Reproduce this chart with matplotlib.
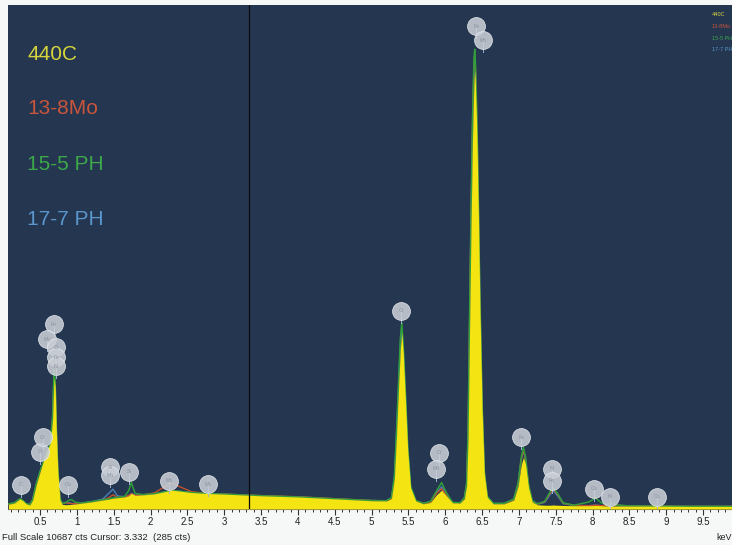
import matplotlib
matplotlib.use("Agg")
import matplotlib.pyplot as plt
from matplotlib.ticker import MultipleLocator

# ── Spectrum data (keV, counts) ──────────────────────────────────────────────

energy_kev = [
    0.07, 0.15, 0.20, 0.23, 0.27, 0.31, 0.36, 0.40, 0.45, 0.50,
    0.55, 0.60, 0.64, 0.67, 0.69, 0.705, 0.72, 0.74, 0.77, 0.80,
    0.85, 0.90, 0.93, 0.97, 1.05, 1.20, 1.35, 1.43, 1.49, 1.55,
    1.65, 1.70, 1.74, 1.79, 1.90, 2.05, 2.20, 2.29, 2.40, 2.55,
    2.75, 3.00, 3.50, 4.00, 4.50, 5.00, 5.20, 5.27, 5.31, 5.34,
    5.37, 5.39, 5.41, 5.43, 5.46, 5.49, 5.53, 5.60, 5.70, 5.80,
    5.88, 5.95, 6.02, 6.10, 6.20, 6.26, 6.29, 6.31, 6.33, 6.35,
    6.37, 6.39, 6.40, 6.41, 6.43, 6.45, 6.47, 6.50, 6.53, 6.57,
    6.65, 6.80, 6.93, 6.99, 7.03, 7.06, 7.09, 7.13, 7.18, 7.25,
    7.35, 7.42, 7.47, 7.52, 7.60, 7.75, 7.95, 8.04, 8.12, 8.20,
    8.26, 8.33, 8.50, 8.85, 8.90, 8.95, 9.30, 9.60, 9.90,
]

counts_440c = [
    100, 125, 180, 215, 170, 110, 85, 190, 520, 780,
    1040, 1250, 1400, 1890, 2780, 2600, 1700, 830, 190, 100,
    90, 95, 100, 105, 120, 150, 190, 210, 230, 240,
    255, 280, 330, 290, 300, 320, 370, 400, 380, 350,
    330, 315, 280, 255, 215, 175, 170, 220, 650, 1600,
    2700, 3400, 3750, 3300, 2300, 1250, 450, 170, 110, 140,
    300, 400, 270, 130, 125, 220, 500, 1500, 3800, 6000,
    7900, 9100, 9300, 9000, 7900, 6200, 4300, 2100, 750, 250,
    110, 110, 190, 500, 930, 1100, 950, 450, 150, 90,
    80, 80, 85, 80, 75, 70, 70, 75, 70, 65,
    65, 65, 60, 60, 60, 60, 55, 55, 55,
]

counts_13_8mo = [
    105, 125, 175, 200, 165, 110, 90, 195, 520, 760,
    980, 1180, 1350, 1900, 2850, 2650, 1720, 850, 210, 115,
    135, 120, 115, 110, 120, 150, 190, 240, 300, 250,
    255, 285, 320, 290, 300, 340, 480, 550, 470, 370,
    330, 315, 285, 260, 220, 180, 175, 210, 580, 1400,
    2250, 2850, 3050, 2750, 1900, 1050, 400, 160, 115, 140,
    330, 430, 290, 135, 130, 230, 530, 1600, 4000, 6200,
    8200, 9450, 9650, 9350, 8200, 6400, 4450, 2200, 780, 260,
    115, 115, 200, 540, 1050, 1250, 1060, 500, 170, 105,
    150, 330, 420, 320, 120, 75, 70, 80, 70, 90,
    120, 80, 65, 60, 60, 60, 55, 55, 55,
]

counts_15_5ph = [
    110, 130, 190, 220, 175, 115, 90, 200, 540, 800,
    1020, 1230, 1380, 1950, 2950, 2700, 1750, 860, 230, 120,
    140, 190, 200, 150, 125, 155, 195, 215, 235, 245,
    270, 380, 560, 330, 305, 325, 365, 390, 375, 350,
    330, 315, 280, 255, 215, 180, 175, 240, 700, 1700,
    2850, 3600, 3950, 3450, 2450, 1330, 480, 180, 120, 160,
    380, 560, 330, 140, 130, 240, 550, 1650, 4100, 6300,
    8300, 9550, 9750, 9450, 8300, 6500, 4550, 2250, 800, 270,
    120, 120, 210, 560, 1080, 1310, 1100, 520, 180, 110,
    160, 360, 450, 340, 130, 80, 150, 235, 130, 100,
    130, 85, 65, 60, 70, 60, 55, 55, 55,
]

counts_17_7ph = [
    105, 125, 180, 205, 165, 110, 88, 195, 525, 770,
    1000, 1200, 1370, 1920, 2870, 2680, 1730, 850, 215, 115,
    135, 125, 120, 110, 120, 155, 210, 330, 420, 280,
    255, 280, 330, 290, 300, 320, 365, 390, 375, 350,
    330, 315, 280, 255, 215, 178, 172, 225, 670, 1650,
    2750, 3480, 3820, 3380, 2380, 1290, 465, 175, 115, 150,
    340, 470, 300, 135, 128, 230, 520, 1550, 3900, 6100,
    8100, 9350, 9550, 9250, 8100, 6300, 4400, 2150, 770, 255,
    115, 115, 200, 530, 1040, 1240, 1050, 490, 165, 100,
    140, 300, 380, 290, 115, 75, 70, 80, 70, 85,
    110, 75, 65, 60, 60, 60, 55, 55, 55,
]

series_names = ["440C", "13-8Mo", "15-5 PH", "17-7 PH"]

# element marker labels (label, keV, counts at marker centre)
marker_labels = ["C", "O", "Cr", "Cu", "Fe", "Mn", "Cr", "Fe", "Ni",
                 "Al", "Mo", "Si", "Mo", "Mo", "Cr", "Cr", "Mn",
                 "Fe", "Mn", "Fe", "Ni", "Fe", "Cu", "Ni", "Cu"]
marker_kev = [0.24, 0.50, 0.54, 0.88, 0.69, 0.595, 0.72, 0.72, 0.72,
              1.45, 1.45, 1.71, 2.25, 2.78, 5.40, 5.92, 5.88,
              6.42, 6.51, 7.03, 7.45, 7.45, 8.02, 8.24, 8.88]
marker_counts = [510, 1210, 1525, 510, 3920, 3600, 3430, 3220, 3030,
                 890, 720, 785, 595, 530, 4200, 1190, 850,
                 10240, 9940, 1525, 850, 595, 425, 255, 255]

tick_kev = [0.5, 1, 1.5, 2, 2.5, 3, 3.5, 4, 4.5, 5, 5.5, 6, 6.5, 7,
            7.5, 8, 8.5, 9, 9.5]
full_scale = 10687
cursor_kev = 3.332
status_text = "Full Scale 10687 cts Cursor: 3.332  (285 cts)"

# ── Styling ──────────────────────────────────────────────────────────────────

BG = "#243650"
YELLOW_FILL = "#f4e412"
LINE_COLOURS = {"13-8Mo": "#c4502e", "15-5 PH": "#2f9e3b", "17-7 PH": "#4a80b8"}
TEXT_COLOURS = ["#d6d53c", "#c8553c", "#3ca84a", "#5a96cc"]

plt.rcParams["font.family"] = ["Liberation Sans", "DejaVu Sans"]

W, H = 732, 545
fig = plt.figure(figsize=(W / 100, H / 100), dpi=100, facecolor="#f6f7f7")
ax = fig.add_axes([8 / W, 36 / H, 724 / W, 504 / H])
ax.set_facecolor(BG)

# overlay spectra as lines, 440C as filled spectrum on top
ax.plot(energy_kev, counts_17_7ph, color=LINE_COLOURS["17-7 PH"], lw=1.0, zorder=2)
ax.plot(energy_kev, counts_13_8mo, color=LINE_COLOURS["13-8Mo"], lw=1.0, zorder=2.1)
ax.plot(energy_kev, counts_15_5ph, color=LINE_COLOURS["15-5 PH"], lw=1.1, zorder=2.2)
ax.fill_between(energy_kev, 0, counts_440c, color=YELLOW_FILL, lw=0, zorder=3)

# cursor
ax.axvline(cursor_kev, color="#0b0b0b", lw=0.9, zorder=4)

# element markers with short stems
for lab, e, c in zip(marker_labels, marker_kev, marker_counts):
    ax.plot([e, e], [c - 260, c], color="#9fb4cc", lw=0.7, zorder=5)
ax.scatter(marker_kev, marker_counts, s=165, color="#c9ced6", alpha=0.88,
           edgecolors="#e6e9ee", linewidths=0.6, zorder=6)
for lab, e, c in zip(marker_labels, marker_kev, marker_counts):
    ax.text(e, c, lab, fontsize=3.8, color="#8b939e", ha="center",
            va="center", zorder=7)

ax.set_xlim(0.065, 9.892)
ax.set_ylim(0, full_scale)
ax.set_xticks(tick_kev)
ax.set_xticklabels([f"{t:g}" for t in tick_kev])
ax.xaxis.set_minor_locator(MultipleLocator(0.1))
ax.tick_params(axis="x", which="major", length=4, width=0.8, color="#333333",
               labelsize=7, labelcolor="#222222", pad=2)
ax.tick_params(axis="x", which="minor", length=2.5, width=0.7, color="#333333")
ax.set_yticks([])
for side in ("top", "right", "left"):
    ax.spines[side].set_visible(False)
ax.spines["bottom"].set_color("#555555")
ax.spines["bottom"].set_linewidth(0.8)

# big legend labels on the left
for i, (name, col) in enumerate(zip(series_names, TEXT_COLOURS)):
    fig.text(27 / W, 1 - (54 + 55 * i) / H, name, color=col, fontsize=15,
             va="center", ha="left")

# tiny legend in the top-right corner
for i, (name, col) in enumerate(zip(series_names, TEXT_COLOURS)):
    fig.text(712 / W, 1 - (15 + 11.5 * i) / H, name, color=col, fontsize=4,
             va="center", ha="left")

fig.text(2 / W, 1 - 538 / H, status_text, fontsize=6.8, color="#222222",
         va="center", ha="left")
fig.text(716 / W, 1 - 538 / H, "keV", fontsize=6.5, color="#222222",
         va="center", ha="left")

fig.savefig("out.png", dpi=100, facecolor=fig.get_facecolor())
